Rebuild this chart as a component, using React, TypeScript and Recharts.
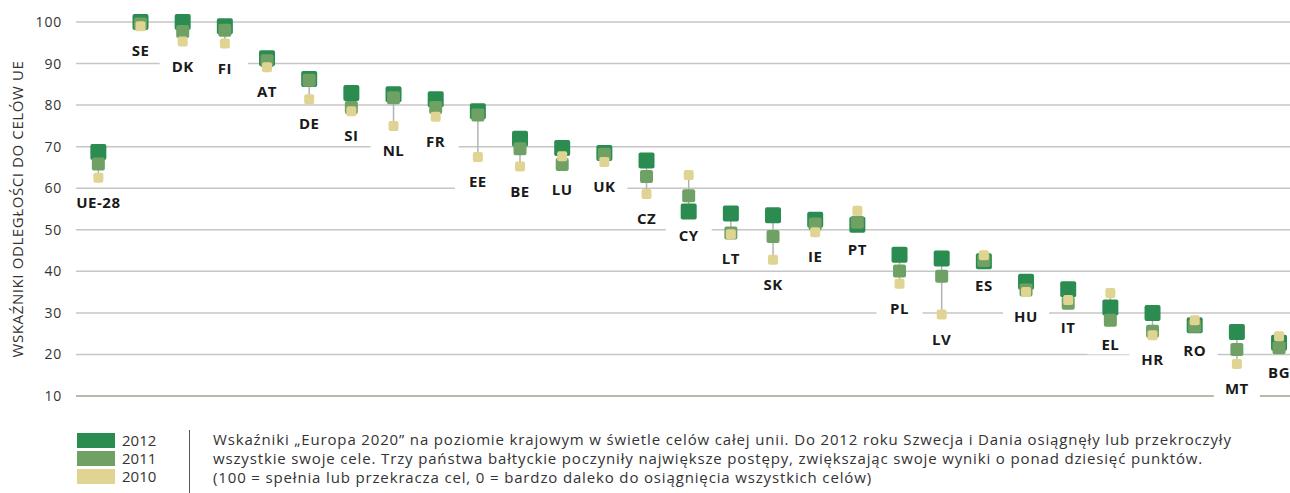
import { ScatterChart, Scatter, XAxis, YAxis, CartesianGrid, ErrorBar, ReferenceLine } from "recharts";

// kraje w kolejności z wykresu
const countries = ["UE-28", "SE", "DK", "FI", "AT", "DE", "SI", "NL", "FR", "EE", "BE", "LU", "UK", "CZ", "CY", "LT", "SK", "IE", "PT", "PL", "LV", "ES", "HU", "IT", "EL", "HR", "RO", "MT", "BG"];

const score2012 = [68.7, 100, 100, 99, 91.3, 86.3, 82.9, 82.6, 81.4, 78.5, 71.9, 69.7, 68.5, 66.7, 54.4, 53.9, 53.5, 52.4, 51.2, 44.0, 43.1, 42.4, 37.5, 35.7, 31.3, 30.0, 27.0, 25.4, 22.8];
const score2011 = [65.8, 99.5, 97.7, 98, 90.7, 86, 79.4, 81.8, 79.4, 77.6, 69.5, 65.7, 68.2, 62.8, 58.2, 49.2, 48.4, 51.4, 51.8, 40.1, 38.8, 42.6, 35.5, 32.3, 28.2, 25.6, 26.8, 21.2, 21.6];
const score2010 = [62.5, 99, 95.3, 94.8, 89.1, 81.4, 78.5, 75, 77.2, 67.5, 65.2, 67.7, 66.3, 58.6, 63.2, 48.9, 42.8, 49.4, 54.6, 37, 29.6, 43.9, 35, 33.1, 34.8, 24.6, 28.2, 17.7, 24.4];

const yTicks = [10, 20, 30, 40, 50, 60, 70, 80, 90, 100];
const years = ["2012", "2011", "2010"];
const yAxisTitle = "WSKAŹNIKI ODLEGŁOŚCI DO CELÓW UE";
const noteLines = [
  "Wskaźniki „Europa 2020” na poziomie krajowym w świetle celów całej unii. Do 2012 roku Szwecja i Dania osiągnęły lub przekroczyły",
  "wszystkie swoje cele. Trzy państwa bałtyckie poczyniły największe postępy, zwiększając swoje wyniki o ponad dziesięć punktów.",
  "(100 = spełnia lub przekracza cel, 0 = bardzo daleko do osiągnięcia wszystkich celów)",
];

const COLORS: Record<string, string> = { "2012": "#2a8c50", "2011": "#6ea163", "2010": "#e0d493" };
const FONT = "'Open Sans', 'DejaVu Sans', sans-serif";

const rows = countries.map((name, i) => {
  const vals = [score2012[i], score2011[i], score2010[i]];
  const lo = Math.min(...vals);
  const hi = Math.max(...vals);
  return { idx: i, name, s2012: score2012[i], s2011: score2011[i], s2010: score2010[i], lo, err: [0, hi - lo] };
});

const square = (size: number, fill: string) => (props: any) => {
  const { cx, cy } = props;
  if (cx == null || cy == null) return <g />;
  return <rect x={cx - size / 2} y={cy - size / 2} width={size} height={size} rx={2} fill={fill} />;
};

const CountryLabel = (props: any) => {
  const { cx, cy, payload } = props;
  if (cx == null || cy == null) return <g />;
  const name = payload.name as string;
  const w = name.length * 11 + 24;
  const y = cy + 24;
  return (
    <g>
      <rect x={cx - w / 2} y={y - 10} width={w} height={20} fill="#ffffff" />
      <text x={cx} y={y} textAnchor="middle" dominantBaseline="central" fontFamily={FONT} fontSize={15} fontWeight={700} letterSpacing={0.5} fill="#1a1a1a">
        {name}
      </text>
    </g>
  );
};

export default function App() {
  return (
    <div style={{ position: "absolute", left: 0, top: 0, width: 1290, height: 493, overflow: "hidden", fontFamily: FONT, background: "#ffffff" }}>
      <ScatterChart width={1290} height={404} margin={{ top: 22, right: 0, bottom: 8, left: 16 }}>
        <CartesianGrid horizontal vertical={false} stroke="#c6c6c6" strokeWidth={1.5} />
        <XAxis type="number" dataKey="idx" domain={[-0.53, 28.26]} hide />
        <YAxis
          type="number"
          domain={[10, 100]}
          ticks={yTicks}
          interval={0}
          width={60}
          axisLine={false}
          tickLine={false}
          tickMargin={8}
          tick={{ fontSize: 14, fill: "#333333", fontFamily: FONT, letterSpacing: 0.8 }}
          label={{
            content: () => (
              <text
                transform="translate(16.5,209) rotate(-90)"
                textAnchor="middle"
                dominantBaseline="central"
                fontFamily={FONT}
                fontSize={15}
                letterSpacing={0.6}
                fill="#333333"
              >
                {yAxisTitle}
              </text>
            ),
          }}
        />
        <ReferenceLine y={10} stroke="#bdb9a2" strokeWidth={2} />
        <Scatter data={rows} dataKey="lo" shape={CountryLabel} isAnimationActive={false}>
          <ErrorBar dataKey="err" direction="y" width={0} stroke="#b3b3b3" strokeWidth={1.5} />
        </Scatter>
        <Scatter data={rows} dataKey="s2012" shape={square(16, COLORS["2012"])} isAnimationActive={false} />
        <Scatter data={rows} dataKey="s2011" shape={square(13, COLORS["2011"])} isAnimationActive={false} />
        <Scatter data={rows} dataKey="s2010" shape={square(10, COLORS["2010"])} isAnimationActive={false} />
      </ScatterChart>

      <div style={{ display: "flex", marginTop: 26, height: 63 }}>
        <div style={{ marginLeft: 77, width: 100, paddingTop: 1 }}>
          {years.map((y) => (
            <div key={y} style={{ display: "flex", alignItems: "center", height: 18 }}>
              <div style={{ width: 38, height: 15, background: COLORS[y] }} />
              <span style={{ marginLeft: 7, fontSize: 15, color: "#333333", lineHeight: "18px" }}>{y}</span>
            </div>
          ))}
        </div>
        <div style={{ marginLeft: 12, width: 1, height: 63, background: "#555555" }} />
        <div style={{ marginLeft: 23, fontSize: 15, letterSpacing: 0.85, color: "#333333", lineHeight: "19px", whiteSpace: "nowrap" }}>
          {noteLines.map((l, i) => (
            <div key={i}>{l}</div>
          ))}
        </div>
      </div>
    </div>
  );
}
